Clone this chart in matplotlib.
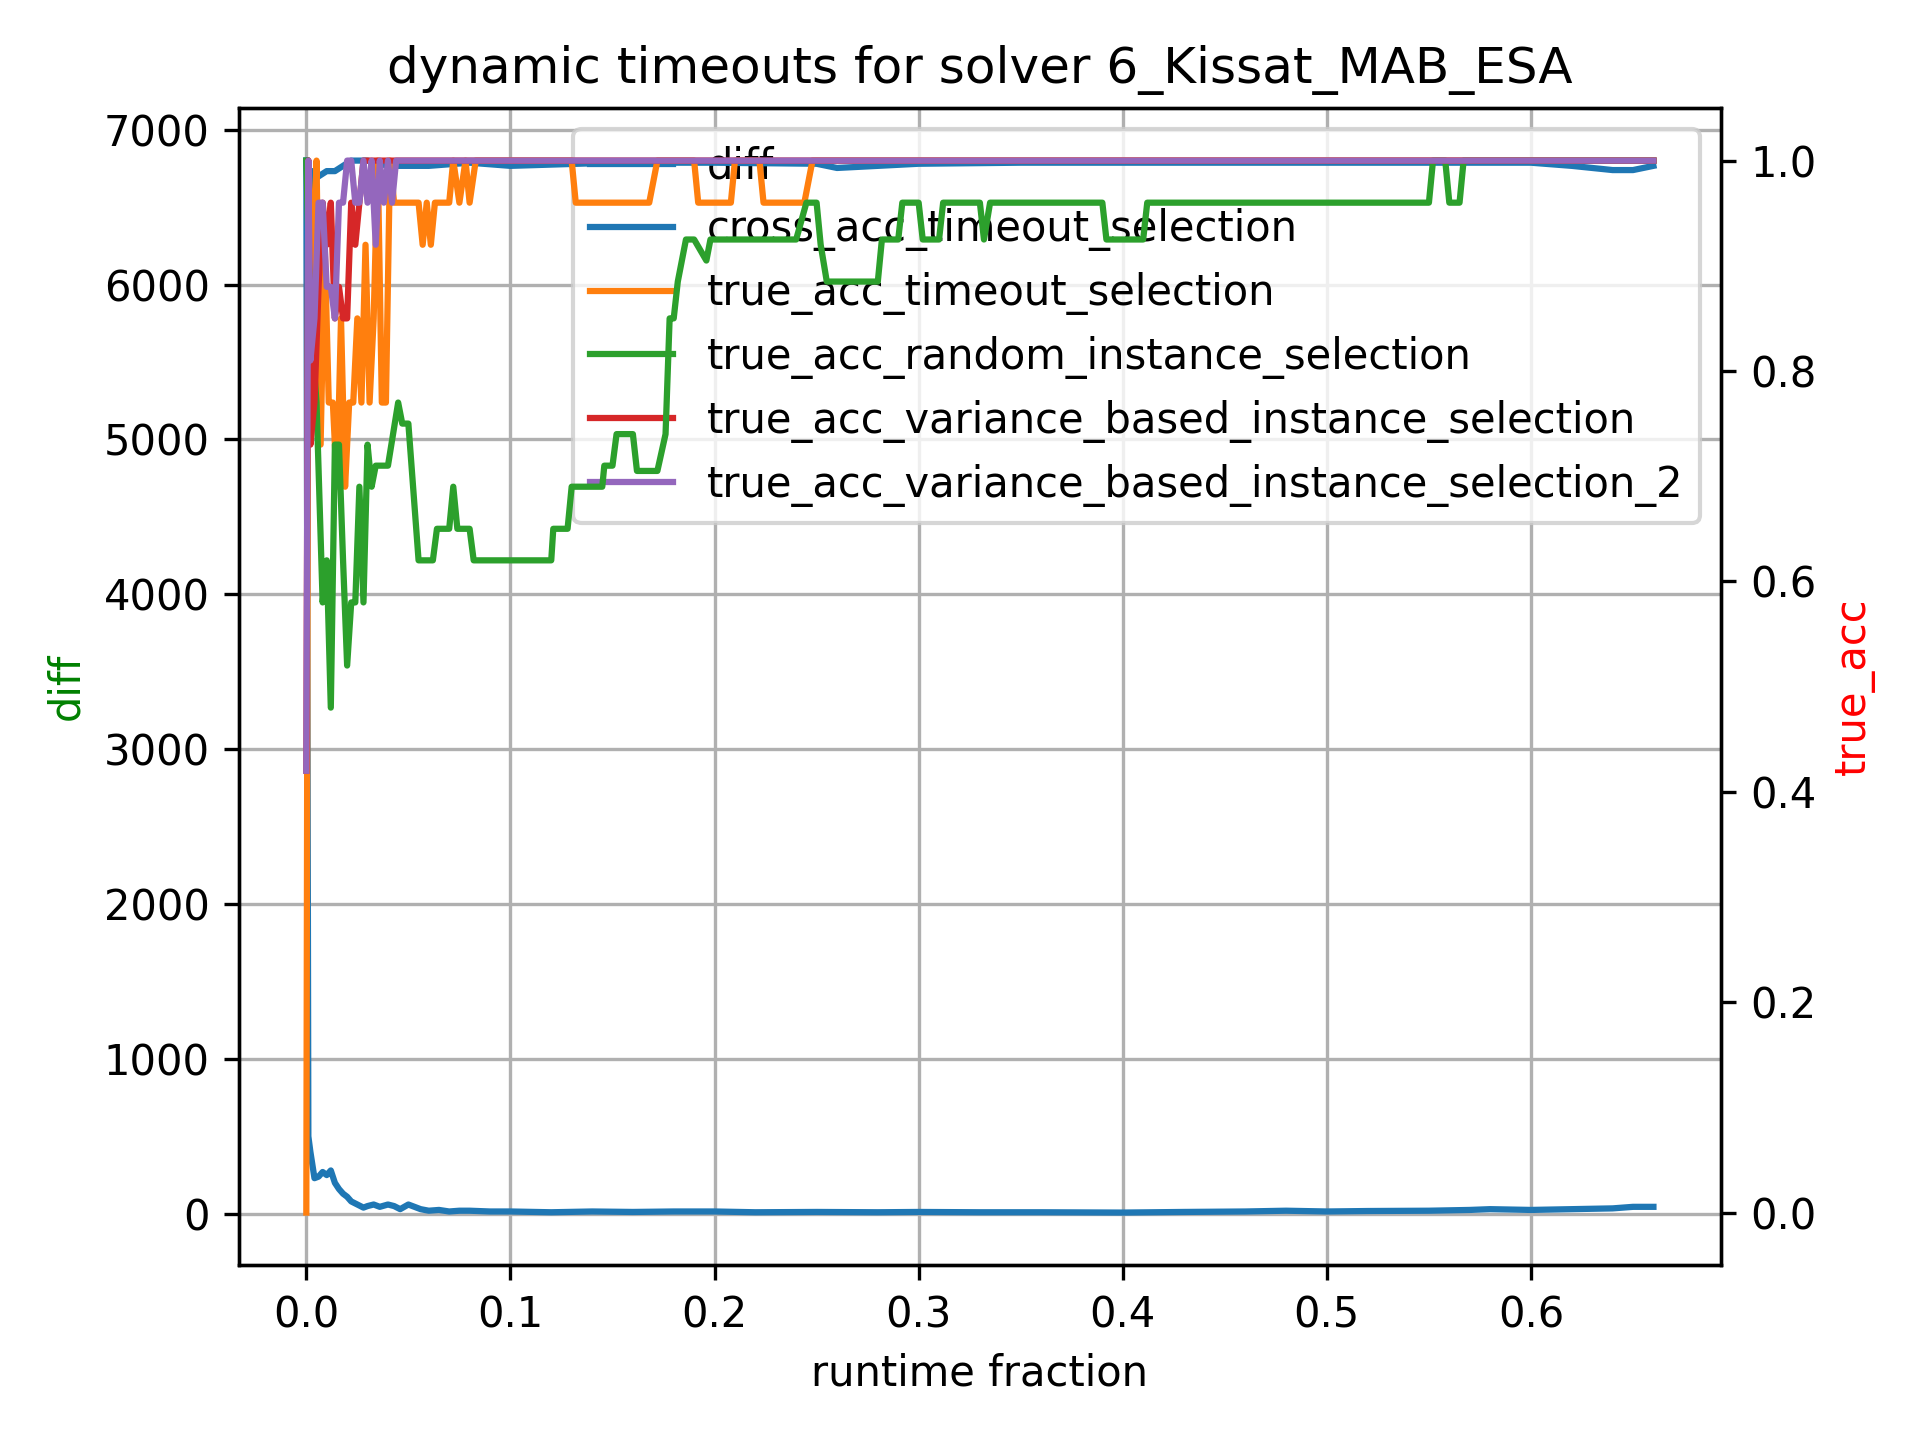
import matplotlib
matplotlib.use("Agg")
import matplotlib.pyplot as plt
import numpy as np

# runtime fraction / diff
diff_x = [0.0, 0.001, 0.002, 0.004, 0.006, 0.008, 0.010, 0.012, 0.014, 0.016, 0.018, 0.020, 0.022,
          0.025, 0.028, 0.030, 0.033, 0.036, 0.040, 0.043, 0.046, 0.050, 0.053, 0.056, 0.060, 0.065,
          0.070, 0.075, 0.080, 0.090, 0.100, 0.120, 0.140, 0.160, 0.180, 0.200, 0.220, 0.250, 0.280,
          0.300, 0.330, 0.360, 0.400, 0.430, 0.460, 0.480, 0.500, 0.520, 0.550, 0.570, 0.580, 0.600,
          0.620, 0.640, 0.650, 0.660]
diff_y = [6800, 500, 400, 230, 240, 270, 250, 280, 200, 160, 130, 110, 80,
          60, 40, 50, 60, 45, 60, 50, 30, 60, 45, 30, 20, 25,
          15, 20, 20, 15, 15, 10, 15, 12, 15, 15, 10, 12, 10,
          12, 10, 10, 8, 12, 15, 20, 15, 18, 20, 25, 30, 25,
          30, 35, 45, 45]

cross_x = [0.0, 0.001, 0.003, 0.006, 0.010, 0.014, 0.018, 0.022, 0.030, 0.040, 0.050, 0.060, 0.080,
           0.100, 0.150, 0.200, 0.250, 0.260, 0.300, 0.350, 0.400, 0.450, 0.500, 0.550, 0.600, 0.620,
           0.640, 0.650, 0.660]
cross_y = [1.0, 0.96, 0.99, 0.985, 0.99, 0.99, 0.995, 1.0, 1.0, 0.995, 0.995, 0.995, 0.998,
           0.995, 0.998, 0.998, 0.997, 0.993, 0.997, 0.998, 0.998, 0.998, 0.998, 0.998, 0.998, 0.995,
           0.991, 0.991, 0.995]

orange_x = [0.0, 0.001, 0.003, 0.005, 0.007, 0.009, 0.011, 0.013, 0.015, 0.017, 0.019, 0.021,
            0.023, 0.025, 0.027, 0.029, 0.031, 0.033, 0.035, 0.037, 0.039, 0.041, 0.043, 0.046,
            0.050, 0.055, 0.057, 0.059, 0.061, 0.063, 0.065, 0.070, 0.072, 0.075, 0.078, 0.080,
            0.083, 0.090, 0.100, 0.130, 0.132, 0.168, 0.172, 0.190, 0.192, 0.208, 0.210, 0.222,
            0.224, 0.244, 0.248, 0.660]
orange_y = [0.0, 1.0, 0.88, 1.0, 0.73, 0.92, 0.77, 0.77, 0.69, 0.85, 0.69, 0.77,
            0.77, 0.85, 0.77, 0.92, 0.77, 0.85, 1.0, 0.77, 0.77, 1.0, 0.96, 0.96,
            0.96, 0.96, 0.92, 0.96, 0.92, 0.96, 0.96, 0.96, 1.0, 0.96, 1.0, 0.96,
            1.0, 1.0, 1.0, 1.0, 0.96, 0.96, 1.0, 1.0, 0.96, 0.96, 1.0, 1.0,
            0.96, 0.96, 1.0, 1.0]

green_x = [0.0, 0.002, 0.005, 0.008, 0.010, 0.012, 0.014, 0.016, 0.018, 0.020, 0.022, 0.024,
           0.026, 0.028, 0.030, 0.032, 0.034, 0.040, 0.045, 0.047, 0.050, 0.055, 0.062, 0.064,
           0.070, 0.072, 0.074, 0.080, 0.082, 0.120, 0.121, 0.128, 0.130, 0.145, 0.146, 0.150,
           0.152, 0.160, 0.162, 0.165, 0.172, 0.176, 0.178, 0.180, 0.182, 0.186, 0.190, 0.196,
           0.198, 0.240, 0.245, 0.250, 0.252, 0.255, 0.280, 0.282, 0.290, 0.292, 0.300, 0.302,
           0.310, 0.312, 0.330, 0.332, 0.335, 0.390, 0.392, 0.410, 0.412, 0.550, 0.552, 0.558,
           0.560, 0.565, 0.567, 0.660]
green_y = [1.0, 0.85, 0.77, 0.58, 0.62, 0.48, 0.73, 0.73, 0.62, 0.52, 0.58, 0.58,
           0.69, 0.58, 0.73, 0.69, 0.71, 0.71, 0.77, 0.75, 0.75, 0.62, 0.62, 0.65,
           0.65, 0.69, 0.65, 0.65, 0.62, 0.62, 0.65, 0.65, 0.69, 0.69, 0.71, 0.71,
           0.74, 0.74, 0.705, 0.705, 0.705, 0.74, 0.85, 0.85, 0.885, 0.925, 0.925, 0.905,
           0.925, 0.925, 0.96, 0.96, 0.92, 0.885, 0.885, 0.925, 0.925, 0.96, 0.96, 0.925,
           0.925, 0.96, 0.96, 0.925, 0.96, 0.96, 0.925, 0.925, 0.96, 0.96, 1.0, 1.0,
           0.96, 0.96, 1.0, 1.0]

red_x = [0.0, 0.001, 0.002, 0.004, 0.006, 0.008, 0.010, 0.012, 0.014, 0.016, 0.018, 0.020,
         0.022, 0.024, 0.026, 0.028, 0.030, 0.032, 0.660]
red_y = [0.42, 1.0, 0.73, 0.77, 0.88, 0.96, 0.92, 0.96, 0.85, 0.88, 0.85, 0.85,
         0.96, 0.92, 0.96, 1.0, 1.0, 1.0, 1.0]

purple_x = [0.0, 0.001, 0.002, 0.004, 0.006, 0.008, 0.010, 0.012, 0.014, 0.016, 0.018, 0.020,
            0.022, 0.024, 0.026, 0.028, 0.030, 0.032, 0.034, 0.036, 0.038, 0.040, 0.042, 0.044,
            0.046, 0.050, 0.660]
purple_y = [0.42, 1.0, 0.81, 0.85, 0.96, 0.96, 0.88, 0.88, 0.85, 0.96, 0.96, 1.0,
            1.0, 0.96, 0.96, 1.0, 0.96, 1.0, 0.92, 1.0, 0.96, 1.0, 0.96, 1.0,
            1.0, 1.0, 1.0]

fig, ax1 = plt.subplots(figsize=(6.4, 4.8), dpi=300)
ax2 = ax1.twinx()

l0, = ax1.plot(diff_x, diff_y, color="C0", label="diff")
ax1.set_xlabel("runtime fraction")
ax1.set_ylabel("diff", color="green")
ax1.grid(True)

l1, = ax2.plot(cross_x, cross_y, color="C0", label="cross_acc_timeout_selection")
l2, = ax2.plot(orange_x, orange_y, color="C1", label="true_acc_timeout_selection")
l3, = ax2.plot(green_x, green_y, color="C2", label="true_acc_random_instance_selection")
l4, = ax2.plot(red_x, red_y, color="C3", label="true_acc_variance_based_instance_selection")
l5, = ax2.plot(purple_x, purple_y, color="C4", label="true_acc_variance_based_instance_selection_2")
ax2.set_ylabel("true_acc", color="red")

ax1.legend(handles=[l0, l1, l2, l3, l4, l5], loc="upper right")
ax1.set_title("dynamic timeouts for solver 6_Kissat_MAB_ESA")

fig.tight_layout()
fig.savefig("out.png")
